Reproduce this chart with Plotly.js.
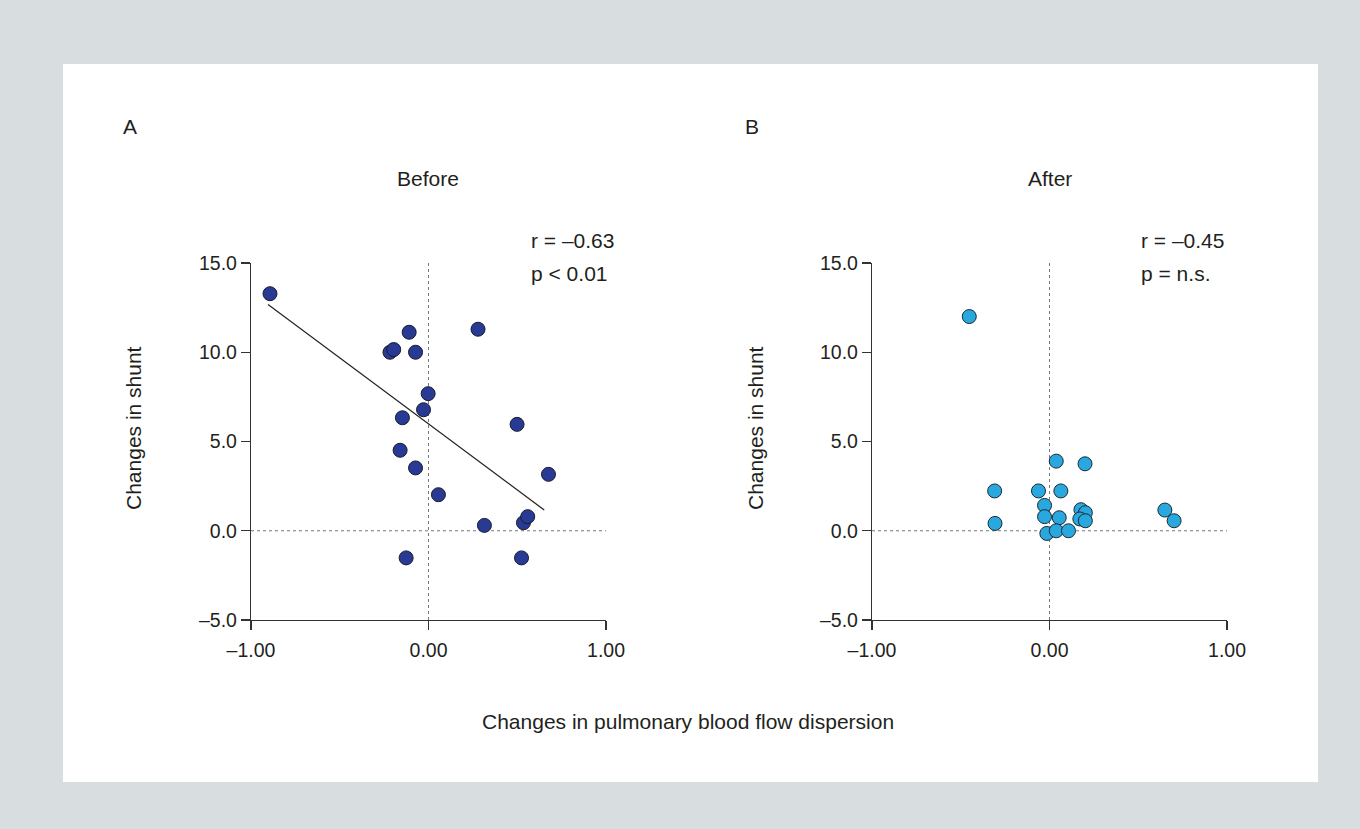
<!DOCTYPE html>
<html>
<head>
<meta charset="utf-8">
<script src="https://cdn.plot.ly/plotly-3.0.1.min.js"></script>
<style>html,body{margin:0;padding:0;background:#d8dde0;}#chart{width:1360px;height:829px;}</style>
</head>
<body>
<div id="chart"></div>
<script>
// Panel A (Before)
const beforeX = [-0.893, -0.109, 0.279, -0.217, -0.196, -0.073, -0.002, -0.028, -0.147, 0.499, -0.160, -0.073, 0.676, 0.056, 0.315, 0.535, 0.559, -0.126, 0.524];
const beforeY = [13.28, 11.12, 11.29, 10.00, 10.15, 10.00, 7.68, 6.78, 6.33, 5.96, 4.51, 3.52, 3.16, 2.02, 0.30, 0.45, 0.79, -1.52, -1.52];
// Regression line drawn in panel A (end points)
const fitX = [-0.904, 0.652];
const fitY = [12.68, 1.16];
// Panel B (After)
const afterX = [-0.452, 0.038, 0.200, -0.309, -0.062, 0.064, -0.028, -0.028, 0.055, 0.177, 0.202, 0.171, 0.202, -0.307, -0.015, 0.038, 0.107, 0.650, 0.702];
const afterY = [12.00, 3.90, 3.75, 2.23, 2.23, 2.23, 1.42, 0.79, 0.73, 1.18, 1.01, 0.66, 0.56, 0.41, -0.15, 0.00, 0.00, 1.16, 0.56];
// Ticks
const xTickVals = [-1, 0, 1];
const xTickText = ['\u20131.00', '0.00', '1.00'];
const yTickVals = [-5, 0, 5, 10, 15];
const yTickText = ['\u20135.0', '0.0', '5.0', '10.0', '15.0'];
const statsA = ['r = \u20130.63', 'p < 0.01'];
const statsB = ['r = \u20130.45', 'p = n.s.'];

const W = 1360, H = 829;
const px = v => v / W;
const py = v => 1 - v / H;
const FONT = 'Liberation Sans, Arial, Helvetica, sans-serif';
const TXT = '#231f20';
const TS = 21;   // text size
const KS = 19.5; // tick label size

const traces = [
  {x: fitX, y: fitY, xaxis: 'x', yaxis: 'y', mode: 'lines', line: {color: '#222', width: 1.2}, hoverinfo: 'skip', showlegend: false},
  {x: beforeX, y: beforeY, xaxis: 'x', yaxis: 'y', mode: 'markers', showlegend: false,
   marker: {size: 14, color: '#283a94', line: {color: '#1a1a2e', width: 1}}},
  {x: afterX, y: afterY, xaxis: 'x2', yaxis: 'y2', mode: 'markers', showlegend: false,
   marker: {size: 14, color: '#29a7df', line: {color: '#1d2a33', width: 1}}}
];

function xAx(domain, anchor) {
  return {domain: domain, anchor: anchor, range: [-1, 1], tickvals: xTickVals, ticktext: xTickText,
    showline: true, linecolor: '#333', linewidth: 1.2, ticks: 'outside', ticklen: 9, tickcolor: '#333', tickwidth: 1.2,
    ticklabelstandoff: 3,
    showgrid: false, zeroline: false, tickfont: {size: KS, color: TXT, family: FONT}, fixedrange: true};
}
function yAx(anchor) {
  return {domain: [py(620), py(263)], anchor: anchor, range: [-5, 15], tickvals: yTickVals, ticktext: yTickText,
    showline: true, linecolor: '#333', linewidth: 1.2, ticks: 'outside', ticklen: 9, tickcolor: '#333', tickwidth: 1.2,
    showgrid: false, zeroline: false, tickfont: {size: KS, color: TXT, family: FONT}, fixedrange: true};
}

const dotted = {color: '#777', width: 1, dash: 'dot'};
const shapes = [
  {type: 'rect', xref: 'paper', yref: 'paper', x0: px(63), x1: px(1318), y0: py(782), y1: py(64), fillcolor: '#ffffff', line: {width: 0}, layer: 'below'},
  {type: 'line', xref: 'x', yref: 'y', x0: 0, x1: 0, y0: -5, y1: 15, line: dotted, layer: 'below'},
  {type: 'line', xref: 'x', yref: 'y', x0: -1, x1: 1, y0: 0, y1: 0, line: dotted, layer: 'below'},
  {type: 'line', xref: 'x2', yref: 'y2', x0: 0, x1: 0, y0: -5, y1: 15, line: dotted, layer: 'below'},
  {type: 'line', xref: 'x2', yref: 'y2', x0: -1, x1: 1, y0: 0, y1: 0, line: dotted, layer: 'below'}
];

function txt(x, y, text, size, extra) {
  return Object.assign({xref: 'paper', yref: 'paper', x: px(x), y: py(y), text: text, showarrow: false,
    font: {size: size, color: TXT, family: FONT}, xanchor: 'center', yanchor: 'middle'}, extra || {});
}
const annotations = [
  txt(130, 127, 'A', TS),
  txt(752, 127, 'B', TS),
  txt(428, 178, 'Before', TS),
  txt(1050, 178, 'After', TS),
  txt(133, 428, 'Changes in shunt', TS, {textangle: -90}),
  txt(755, 428, 'Changes in shunt', TS, {textangle: -90}),
  txt(688, 721, 'Changes in pulmonary blood flow dispersion', TS),
  txt(529, 240, statsA[0], TS, {xanchor: 'left'}),
  txt(529, 273, statsA[1], TS, {xanchor: 'left'}),
  txt(1139, 240, statsB[0], TS, {xanchor: 'left'}),
  txt(1139, 273, statsB[1], TS, {xanchor: 'left'})
];

const layout = {
  width: W, height: H,
  margin: {l: 0, r: 0, t: 0, b: 0},
  paper_bgcolor: '#d8dde0',
  plot_bgcolor: 'rgba(0,0,0,0)',
  showlegend: false,
  font: {family: FONT, color: TXT},
  xaxis: xAx([px(251), px(606)], 'y'),
  yaxis: yAx('x'),
  xaxis2: xAx([px(872), px(1227)], 'y2'),
  yaxis2: yAx('x2'),
  shapes: shapes,
  annotations: annotations
};

Plotly.newPlot('chart', traces, layout, {displayModeBar: false, staticPlot: true});
</script>
</body>
</html>
